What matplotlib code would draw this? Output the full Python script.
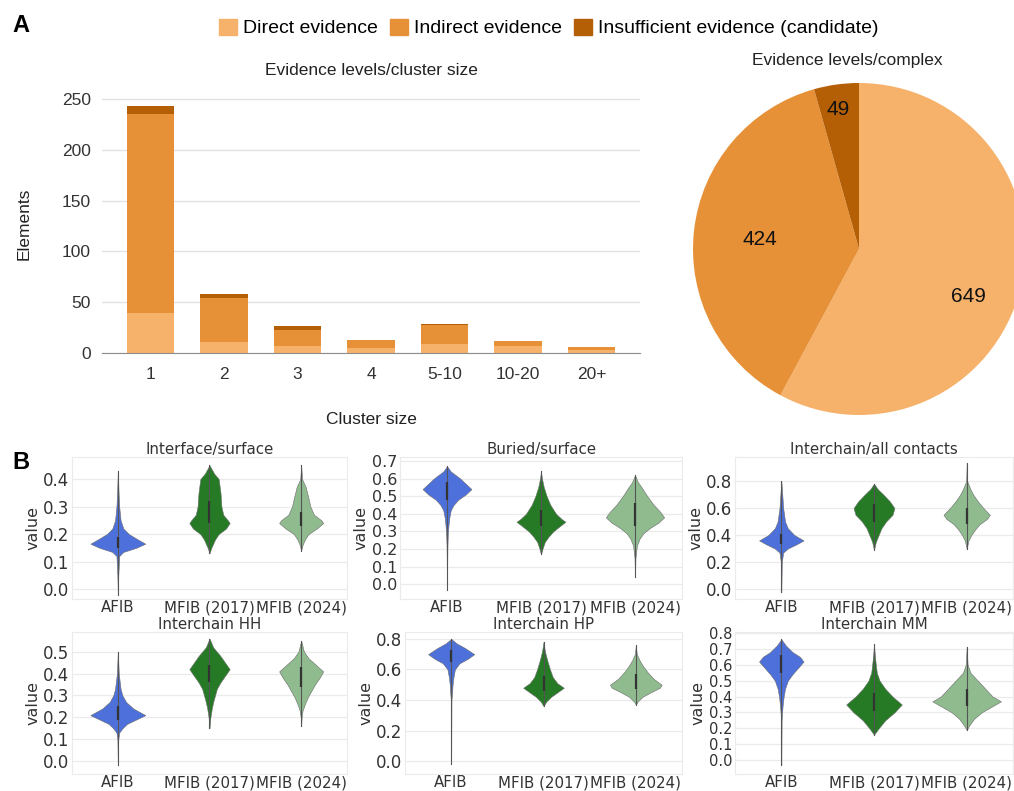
import matplotlib
matplotlib.use('Agg')
import matplotlib.pyplot as plt
import numpy as np

# -- data: panel A -----
cluster_sizes = ['1', '2', '3', '4', '5-10', '10-20', '20+']
direct = [39, 11, 7, 5, 9, 7, 3]
indirect = [196, 43, 16, 8, 19, 5, 3]
insufficient = [8, 4, 4, 0, 1, 0, 0]

evidence_labels = ['Direct evidence', 'Indirect evidence', 'Insufficient evidence (candidate)']
pie_values = [649, 424, 49]

# -- data: panel B (violin outlines as (value, half width) and box q1/median/q3) -----
groups = ['AFIB', 'MFIB (2017)', 'MFIB (2024)']
panel_titles = ['Interface/surface', 'Buried/surface', 'Interchain/all contacts',
                'Interchain HH', 'Interchain HP', 'Interchain MM']

interface_surface = [
    [(-0.02, 0), (0.05, 0.005), (0.12, 0.015), (0.135, 0.06), (0.15, 0.2), (0.165, 0.30),
     (0.18, 0.22), (0.2, 0.12), (0.22, 0.06), (0.25, 0.03), (0.3, 0.015), (0.35, 0.008), (0.43, 0)],
    [(0.13, 0), (0.15, 0.02), (0.18, 0.06), (0.2, 0.1), (0.22, 0.18), (0.24, 0.22), (0.25, 0.2),
     (0.27, 0.15), (0.3, 0.13), (0.35, 0.12), (0.4, 0.1), (0.42, 0.05), (0.45, 0)],
    [(0.14, 0), (0.16, 0.015), (0.18, 0.04), (0.2, 0.08), (0.22, 0.17), (0.24, 0.24), (0.25, 0.22),
     (0.27, 0.14), (0.3, 0.1), (0.33, 0.08), (0.37, 0.05), (0.4, 0.01), (0.45, 0)],
]
interface_surface_box = [(0.15, 0.17, 0.19), (0.24, 0.28, 0.32), (0.23, 0.26, 0.28)]

buried_surface = [
    [(-0.03, 0), (0.2, 0.004), (0.28, 0.008), (0.33, 0.015), (0.38, 0.025), (0.42, 0.04), (0.45, 0.07),
     (0.48, 0.12), (0.51, 0.2), (0.54, 0.26), (0.57, 0.2), (0.6, 0.14), (0.62, 0.09), (0.64, 0.04), (0.67, 0)],
    [(0.17, 0), (0.2, 0.015), (0.24, 0.04), (0.27, 0.08), (0.3, 0.13), (0.33, 0.2), (0.355, 0.26),
     (0.37, 0.22), (0.4, 0.16), (0.45, 0.1), (0.5, 0.06), (0.55, 0.03), (0.6, 0.01), (0.64, 0)],
    [(0.04, 0), (0.15, 0.005), (0.22, 0.02), (0.26, 0.05), (0.29, 0.09), (0.32, 0.16), (0.35, 0.25),
     (0.38, 0.31), (0.41, 0.27), (0.45, 0.2), (0.5, 0.13), (0.55, 0.07), (0.58, 0.03), (0.62, 0)],
]
buried_surface_box = [(0.48, 0.53, 0.58), (0.33, 0.37, 0.42), (0.33, 0.39, 0.46)]

interchain_all = [
    [(-0.02, 0), (0.2, 0.005), (0.27, 0.02), (0.3, 0.07), (0.33, 0.16), (0.36, 0.24), (0.4, 0.14),
     (0.45, 0.07), (0.5, 0.04), (0.6, 0.02), (0.7, 0.01), (0.8, 0)],
    [(0.29, 0), (0.35, 0.02), (0.4, 0.05), (0.45, 0.08), (0.5, 0.13), (0.55, 0.2), (0.6, 0.22),
     (0.65, 0.17), (0.7, 0.1), (0.74, 0.04), (0.78, 0)],
    [(0.3, 0), (0.36, 0.02), (0.4, 0.05), (0.44, 0.09), (0.48, 0.14), (0.52, 0.22), (0.55, 0.25),
     (0.6, 0.18), (0.65, 0.12), (0.7, 0.07), (0.74, 0.04), (0.8, 0.005), (0.93, 0)],
]
interchain_all_box = [(0.33, 0.37, 0.41), (0.5, 0.57, 0.63), (0.48, 0.55, 0.6)]

interchain_hh = [
    [(-0.02, 0), (0.1, 0.005), (0.13, 0.015), (0.15, 0.05), (0.17, 0.1), (0.19, 0.2), (0.21, 0.3),
     (0.24, 0.17), (0.27, 0.09), (0.3, 0.05), (0.33, 0.03), (0.4, 0.01), (0.5, 0)],
    [(0.15, 0), (0.2, 0.01), (0.24, 0.025), (0.27, 0.04), (0.3, 0.06), (0.33, 0.08), (0.36, 0.12),
     (0.39, 0.17), (0.42, 0.22), (0.45, 0.17), (0.48, 0.12), (0.52, 0.04), (0.56, 0)],
    [(0.16, 0), (0.2, 0.005), (0.23, 0.015), (0.26, 0.04), (0.29, 0.07), (0.32, 0.11), (0.35, 0.15),
     (0.38, 0.2), (0.41, 0.24), (0.44, 0.16), (0.47, 0.08), (0.5, 0.03), (0.55, 0)],
]
interchain_hh_box = [(0.19, 0.22, 0.25), (0.36, 0.4, 0.44), (0.34, 0.39, 0.43)]

interchain_hp = [
    [(-0.02, 0), (0.4, 0.003), (0.45, 0.01), (0.5, 0.015), (0.55, 0.025), (0.6, 0.04), (0.64, 0.09),
     (0.67, 0.18), (0.7, 0.25), (0.74, 0.15), (0.77, 0.06), (0.8, 0)],
    [(0.36, 0), (0.39, 0.03), (0.42, 0.08), (0.45, 0.15), (0.48, 0.22), (0.51, 0.15), (0.55, 0.1),
     (0.6, 0.07), (0.66, 0.04), (0.72, 0.015), (0.78, 0)],
    [(0.37, 0), (0.39, 0.02), (0.42, 0.07), (0.45, 0.16), (0.48, 0.26), (0.5, 0.28), (0.54, 0.19),
     (0.58, 0.13), (0.62, 0.08), (0.66, 0.04), (0.7, 0.01), (0.76, 0)],
]
interchain_hp_box = [(0.65, 0.7, 0.73), (0.46, 0.5, 0.56), (0.47, 0.51, 0.57)]

interchain_mm = [
    [(-0.03, 0), (0.25, 0.003), (0.3, 0.008), (0.35, 0.015), (0.4, 0.025), (0.45, 0.04), (0.5, 0.07),
     (0.54, 0.12), (0.58, 0.18), (0.62, 0.24), (0.65, 0.2), (0.68, 0.12), (0.72, 0.05), (0.76, 0)],
    [(0.16, 0), (0.2, 0.05), (0.25, 0.12), (0.3, 0.22), (0.35, 0.3), (0.4, 0.2), (0.45, 0.12),
     (0.5, 0.06), (0.55, 0.03), (0.65, 0.01), (0.73, 0)],
    [(0.19, 0), (0.22, 0.03), (0.26, 0.08), (0.3, 0.16), (0.34, 0.28), (0.37, 0.37), (0.4, 0.28),
     (0.45, 0.2), (0.5, 0.12), (0.55, 0.04), (0.6, 0.01), (0.71, 0)],
]
interchain_mm_box = [(0.55, 0.61, 0.66), (0.31, 0.36, 0.42), (0.34, 0.39, 0.45)]

panel_profiles = [interface_surface, buried_surface, interchain_all,
                  interchain_hh, interchain_hp, interchain_mm]
panel_boxes = [interface_surface_box, buried_surface_box, interchain_all_box,
               interchain_hh_box, interchain_hp_box, interchain_mm_box]
panel_ylims = [(-0.036, 0.48), (-0.083, 0.722), (-0.074, 0.978),
               (-0.059, 0.59), (-0.084, 0.845), (-0.087, 0.806)]
panel_yticks = [np.arange(0, 0.41, 0.1), np.arange(0, 0.71, 0.1), np.arange(0, 0.81, 0.2),
                np.arange(0, 0.51, 0.1), np.arange(0, 0.81, 0.2), np.arange(0, 0.81, 0.1)]

# -- colours -----
evidence_colors = ['#f6b26b', '#e69138', '#b45f06']
violin_colors = ['#4d70da', '#267a26', '#8fbb8f']

W, H = 1014, 791


def px(left, top, right, bottom):
    return [left / W, 1 - bottom / H, (right - left) / W, (bottom - top) / H]


fig = plt.figure(figsize=(W / 100, H / 100), dpi=100)
arial = 'Liberation Sans'

# -- panel A: stacked bars -----
ax = fig.add_axes(px(102, 94, 640, 353))
x = np.arange(len(cluster_sizes))
bottom = np.zeros(len(x))
for vals, col in zip([direct, indirect, insufficient], evidence_colors):
    ax.bar(x, vals, 0.64, bottom=bottom, color=col, linewidth=0)
    bottom += np.array(vals)
ax.set_xlim(-0.66, 6.66)
ax.set_ylim(0, 255)
ax.set_yticks([0, 50, 100, 150, 200, 250])
ax.set_xticks(x)
ax.set_xticklabels(cluster_sizes)
ax.grid(axis='y', color='#e3e3e3', linewidth=1)
ax.set_axisbelow(True)
for s in ['top', 'right', 'left']:
    ax.spines[s].set_visible(False)
ax.spines['bottom'].set_color('#8c8c8c')
ax.tick_params(length=0, labelsize=12.5, labelcolor='#333333', pad=8)
ax.tick_params(axis='x', pad=10)
for lab in ax.get_xticklabels() + ax.get_yticklabels():
    lab.set_family(arial)
ax.set_ylabel('Elements', family=arial, fontsize=12.5, color='#222222', labelpad=22)
ax.set_xlabel('Cluster size', family=arial, fontsize=12.5, color='#222222', labelpad=22)
ax.set_title('Evidence levels/cluster size', family=arial, fontsize=12.5, color='#222222', pad=14)

# -- panel A: pie -----
axp = fig.add_axes(px(693, 83, 1025, 415))
wedges, _ = axp.pie(pie_values, colors=evidence_colors, startangle=90, counterclock=False,
                    radius=1, wedgeprops=dict(linewidth=0))
label_r = [0.72, 0.6, 0.85]
label_shift = [-9.5, 1.0, 0.6]
for w, v, r, sh in zip(wedges, pie_values, label_r, label_shift):
    ang = np.deg2rad((w.theta1 + w.theta2) / 2 + sh)
    axp.text(r * np.cos(ang), r * np.sin(ang), str(v), ha='center', va='center',
             family=arial, fontsize=15, color='#111111')
axp.set_xlim(-1, 1)
axp.set_ylim(-1, 1)
axp.set_aspect('equal')
axp.axis('off')
fig.text(847 / W, 1 - 60 / H, 'Evidence levels/complex', ha='center', va='center',
         family=arial, fontsize=12.5, color='#222222')

handles = [plt.Rectangle((0, 0), 1, 1, color=c) for c in evidence_colors]
fig.legend(handles, evidence_labels, loc='center', bbox_to_anchor=(549 / W, 1 - 28 / H), ncol=3,
           frameon=False, handlelength=0.9, handleheight=0.9, handletextpad=0.35, columnspacing=0.6,
           prop={'family': arial, 'size': 14})

fig.text(12 / W, 1 - 25 / H, 'A', family=arial, fontsize=17, fontweight='bold', va='center')
fig.text(12 / W, 1 - 463 / H, 'B', family=arial, fontsize=17, fontweight='bold', va='center')

# -- panel B: violins -----
boxes_px = [(72, 457, 347, 599), (400, 457, 682, 599), (735, 457, 1013, 599),
            (72, 632, 347, 774), (405, 632, 682, 774), (735, 632, 1013, 774)]
ytick_sizes = [12, 11.5, 12, 12, 12, 10.5]

for i in range(6):
    axv = fig.add_axes(px(*boxes_px[i]))
    for j, (prof, box) in enumerate(zip(panel_profiles[i], panel_boxes[i])):
        yy = np.array([p[0] for p in prof])
        ww = np.array([p[1] for p in prof])
        axv.fill_betweenx(yy, j - ww, j + ww, facecolor=violin_colors[j],
                          edgecolor='#6b6b6b', linewidth=0.4, zorder=2)
        axv.plot([j, j], [yy.min(), yy.max()], color='#555555', linewidth=0.8, zorder=3)
        axv.plot([j, j], [box[0], box[2]], color='#333333', linewidth=1.6,
                 solid_capstyle='butt', zorder=4)
    axv.set_xlim(-0.5, 2.5)
    axv.set_ylim(*panel_ylims[i])
    axv.set_yticks(panel_yticks[i])
    axv.set_yticklabels([f'{t:.1f}' for t in panel_yticks[i]])
    axv.set_xticks([0, 1, 2])
    axv.set_xticklabels(groups)
    axv.grid(axis='y', color='#ebebeb', linewidth=0.9)
    axv.set_axisbelow(True)
    for s in axv.spines.values():
        s.set_color('#ebebeb')
    axv.tick_params(length=0, labelcolor='#333333', pad=2)
    axv.tick_params(axis='y', labelsize=ytick_sizes[i])
    axv.tick_params(axis='x', labelsize=10.8, pad=1)
    axv.set_ylabel('value', fontsize=11.5, color='#333333', labelpad=2)
    axv.set_title(panel_titles[i], fontsize=10.8, color='#333333', pad=1)

fig.savefig('out.png', dpi=100)
